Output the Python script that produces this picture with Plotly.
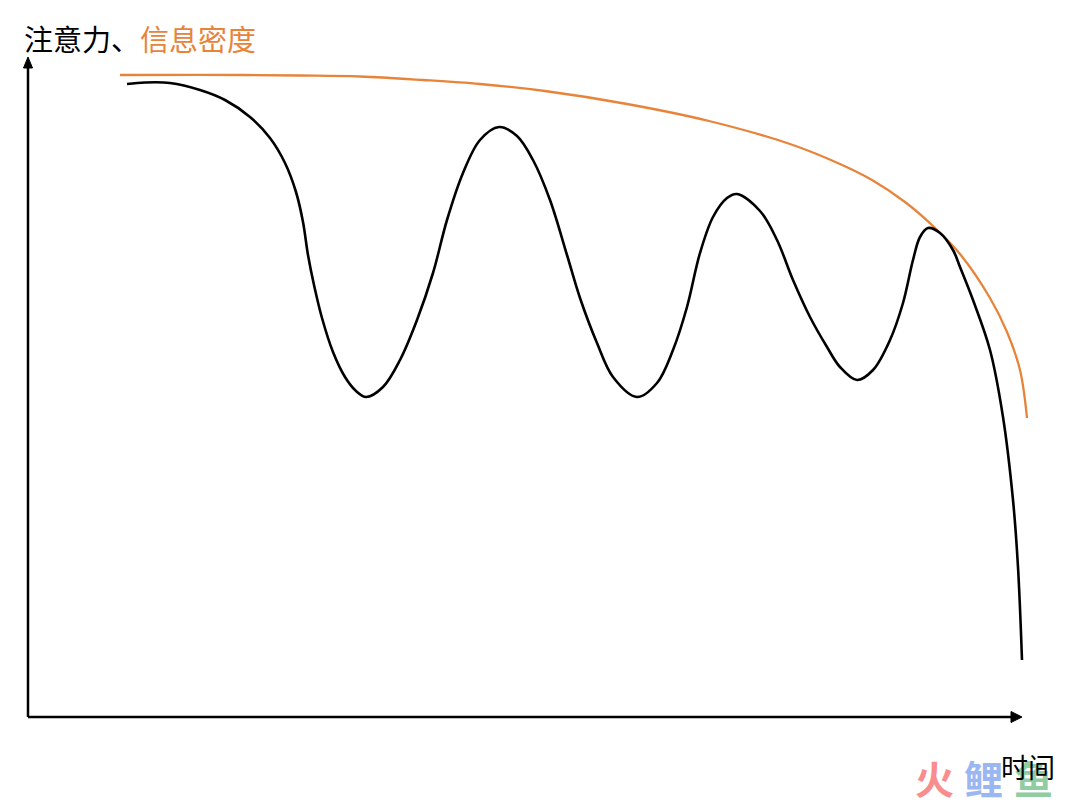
import plotly.graph_objects as go

# time (x) and level (y) values
attn_t = [9.9, 11.7, 14.2, 17.2, 19.7, 22.2, 24.2, 25.7, 26.8, 27.5, 28.0, 28.6, 29.4, 30.5, 31.7,
          32.8, 33.8, 35.5, 37.2, 38.9, 40.5, 41.9, 43.5, 45.2, 47.1, 48.9, 50.5, 52.2, 53.9,
          55.2, 56.9, 58.5, 60.9,
          62.9, 64.5, 65.9, 67.2, 68.5, 69.9, 70.9, 73.2, 74.9, 76.5, 78.2, 79.9, 81.2, 82.9,
          84.5, 86.2, 87.5, 88.5, 89.2, 90.0, 91.2, 92.5, 93.2, 94.5, 96.2, 97.5, 98.5, 99.0, 99.4]
attn_v = [63.3, 63.45, 63.4, 62.7, 61.7, 60.0, 57.9, 55.4, 52.5, 49.5, 46.2, 43.2, 39.9, 36.5, 34.0,
          32.6, 32.0, 33.0, 35.7, 39.7, 44.4, 49.7, 54.4, 57.7, 59.0, 58.1, 55.7, 51.7, 46.2,
          41.9, 37.4, 34.0, 32.0,
          33.4, 36.7, 41.0, 46.4, 50.0, 51.9, 52.3, 50.6, 47.7, 43.7, 40.0, 37.0, 35.0, 33.7,
          34.7, 37.7, 41.4, 45.7, 48.0, 48.9, 48.4, 46.7, 45.0, 41.7, 36.7, 30.0, 21.7, 15.0, 5.7]

dens_t = [9.2, 17.2, 27.2, 33.2, 39.5, 45.2, 51.7, 59.9, 68.1, 76.2, 81.2, 84.4, 87.7, 90.5,
          93.2, 96.2, 97.9, 99.2, 99.9]
dens_v = [64.2, 64.22, 64.15, 64.05, 63.7, 63.3, 62.6, 61.3, 59.6, 57.3, 55.3, 53.7, 51.5, 49.1,
          46.3, 41.9, 38.5, 34.7, 29.9]

y_label_black = "注意力、"
y_label_orange = "信息密度"
x_label = "时间"
wm_chars = ["火", "鲤", "鱼"]
wm_colors = ["#F98C8C", "#9BB7F2", "#90CDA2"]

ORANGE = "#E8833A"
X_END = 99.4
Y_END = 66.0

fig = go.Figure()
fig.add_trace(go.Scatter(x=dens_t, y=dens_v, mode="lines",
                         line=dict(color=ORANGE, width=2.3, shape="spline", smoothing=1.0),
                         hoverinfo="skip", showlegend=False))
fig.add_trace(go.Scatter(x=attn_t, y=attn_v, mode="lines",
                         line=dict(color="black", width=2.6, shape="spline", smoothing=1.0),
                         hoverinfo="skip", showlegend=False))

# axes with arrows
ah_len_x, ah_half_x = 1.1, 0.55
ah_len_y, ah_half_y = 1.1, 0.45
fig.add_shape(type="line", x0=0, y0=0, x1=X_END - ah_len_x, y1=0,
              line=dict(color="black", width=2.5))
fig.add_shape(type="path",
              path=f"M {X_END - ah_len_x} {-ah_half_x} L {X_END} 0 L {X_END - ah_len_x} {ah_half_x} Z",
              fillcolor="black", line=dict(color="black", width=1))
fig.add_shape(type="line", x0=0, y0=0, x1=0, y1=Y_END - ah_len_y,
              line=dict(color="black", width=2.5))
fig.add_shape(type="path",
              path=f"M {-ah_half_y} {Y_END - ah_len_y} L 0 {Y_END} L {ah_half_y} {Y_END - ah_len_y} Z",
              fillcolor="black", line=dict(color="black", width=1))

font = "Noto Sans CJK SC"
fig.add_annotation(x=-0.6, y=67.9, xref="x", yref="y", xanchor="left", yanchor="middle",
                   text=f"{y_label_black}<span style='color:{ORANGE}'>{y_label_orange}</span>",
                   showarrow=False, font=dict(family=font, size=29, color="black"))

for i, (ch, c) in enumerate(zip(wm_chars, wm_colors)):
    fig.add_annotation(x=90.6 + 4.95 * i, y=-6.0, xref="x", yref="y",
                       xanchor="center", yanchor="middle",
                       text=f"<b>{ch}</b>", showarrow=False,
                       font=dict(family=font, size=39, color=c))

fig.add_annotation(x=100.0, y=-4.9, xref="x", yref="y", xanchor="center", yanchor="middle",
                   text=x_label, showarrow=False, font=dict(family=font, size=27, color="black"))

fig.update_layout(width=1072, height=797, margin=dict(l=0, r=0, t=0, b=0),
                  paper_bgcolor="white", plot_bgcolor="white",
                  xaxis=dict(range=[-2.0, 105.2], visible=False, fixedrange=True),
                  yaxis=dict(range=[-8.8, 70.9], visible=False, fixedrange=True))

fig.write_html("out.html")
